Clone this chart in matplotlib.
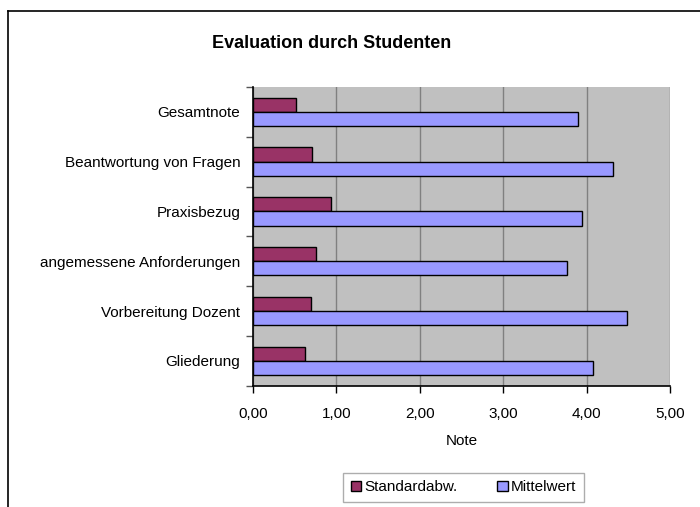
import numpy as np
import matplotlib
matplotlib.use('Agg')
import matplotlib.pyplot as plt
from matplotlib.patches import Patch
from matplotlib.lines import Line2D

plt.rcParams['font.family'] = ['Liberation Sans', 'DejaVu Sans']

# categories from bottom to top
kategorien = ['Gliederung', 'Vorbereitung Dozent', 'angemessene Anforderungen',
              'Praxisbezug', 'Beantwortung von Fragen', 'Gesamtnote']
standardabw = [0.62, 0.69, 0.75, 0.94, 0.71, 0.52]
mittelwert = [4.08, 4.48, 3.76, 3.94, 4.32, 3.90]
xticks = [0, 1, 2, 3, 4, 5]

fs = 11
fig = plt.figure(figsize=(7.0, 5.07), dpi=100)
ax = fig.add_axes([0.3614, 0.2393, 0.5957, 0.5891])
ax.set_facecolor('#C0C0C0')

y = np.arange(len(kategorien))
h = 0.285
ax.barh(y + h / 2, standardabw, height=h, color='#993366', edgecolor='black',
        linewidth=1, zorder=3, label='Standardabw.')
ax.barh(y - h / 2, mittelwert, height=h, color='#9999FF', edgecolor='black',
        linewidth=1, zorder=3, label='Mittelwert')

ax.set_xlim(0, 5)
ax.set_ylim(-0.5, len(kategorien) - 0.5)
ax.set_xticks(xticks)
ax.set_xticklabels([f'{v:.2f}'.replace('.', ',') for v in xticks], fontsize=fs)
ax.set_yticks(y)
ax.set_yticklabels(kategorien, fontsize=fs)
ax.tick_params(axis='y', length=0, pad=9)
ax.set_yticks(np.arange(-0.5, len(kategorien)), minor=True)
ax.tick_params(axis='y', which='minor', length=5, width=1, color='#555555')
ax.tick_params(axis='x', length=5, width=1, pad=10)
ax.xaxis.grid(True, color='#808080', linewidth=1, zorder=0)
ax.set_axisbelow(True)
for s in ['top', 'right']:
    ax.spines[s].set_visible(False)
for s in ['left', 'bottom']:
    ax.spines[s].set_linewidth(1.2)
ax.set_xlabel('Note', fontsize=fs, labelpad=10)

fig.text(0.474, 0.915, 'Evaluation durch Studenten', ha='center', va='center',
         fontsize=13, fontweight='bold')

# outer chart frame (left and top edges visible)
fig.add_artist(Line2D([0.0115, 0.0115], [0.0, 0.978], color='black', linewidth=1.2))
fig.add_artist(Line2D([0.0115, 1.0], [0.978, 0.978], color='black', linewidth=1.2))

handles = [Patch(facecolor='#993366', edgecolor='black', label='Standardabw.'),
           Patch(facecolor='#9999FF', edgecolor='black', label='Mittelwert')]
leg = fig.legend(handles=handles, loc='center', bbox_to_anchor=(0.662, 0.0385),
                 ncol=2, fontsize=fs, frameon=True, fancybox=False,
                 edgecolor='#999999', handlelength=0.7, handleheight=0.7,
                 handletextpad=0.2, columnspacing=2.6, borderpad=0.5,
                 borderaxespad=0.0)
leg.get_frame().set_linewidth(1)

fig.savefig('out.png', dpi=100)
